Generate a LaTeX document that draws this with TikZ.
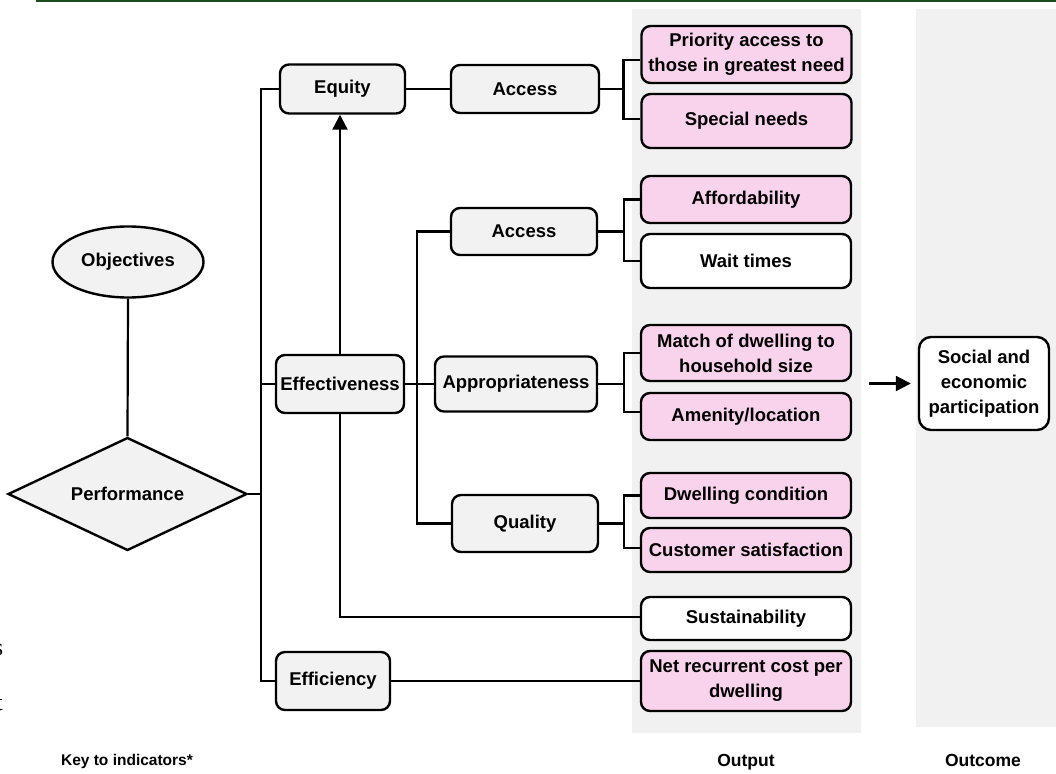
\documentclass[tikz,border=0pt]{standalone}
\usepackage{fontspec}
\setmainfont{Liberation Sans}
\newfontfamily\serifcut{Liberation Serif}
\usetikzlibrary{shapes.geometric,arrows.meta}

\definecolor{boxgray}{HTML}{F2F2F2}
\definecolor{bandgray}{HTML}{F1F1F1}
\definecolor{indpink}{HTML}{F9D3EC}
\definecolor{rulegreen}{HTML}{1B4D1F}

\tikzset{
  base/.style={draw=black, line width=2.4pt, inner sep=2pt, align=center,
    font=\fontsize{18.5}{25}\selectfont\bfseries},
  catbox/.style={base, rounded corners=9pt, fill=boxgray},
  pinkbox/.style={base, rounded corners=9pt, fill=indpink, minimum width=210pt},
  whitebox/.style={base, rounded corners=9pt, fill=white, minimum width=210pt},
  link/.style={line width=2.2pt, draw=black},
  arr/.style={link, -{Triangle[length=15pt,width=15pt]}},
  caption/.style={font=\fontsize{17.5}{20}\selectfont\bfseries, anchor=base},
}

\begin{document}
\begin{tikzpicture}[x=1pt, y=-1pt]
\useasboundingbox (0,0) rectangle (1056,773);

% header rule
\draw[rulegreen, line width=2pt] (36,1) -- (1056,1);

% output and outcome columns
\fill[bandgray] (632,9) rectangle (861,733);
\fill[bandgray] (916,9) rectangle (1056,727);

% word endings cut by the left margin
\node[font=\serifcut\fontsize{24}{26}\selectfont, anchor=base east, inner sep=0] (cuts) at (3.5,655) {s};
\node[font=\serifcut\fontsize{24}{26}\selectfont, anchor=base east, inner sep=0] (cutt) at (3,710) {t};

% objectives and performance
\node[base, ellipse, fill=boxgray, minimum width=151pt, minimum height=71pt, inner sep=0] (obj) at (128,262) {Objectives};
\node[base, diamond, aspect=2.1, fill=boxgray, minimum width=239pt, minimum height=113pt, inner sep=0] (perf) at (127.5,494) {Performance};

% dimensions
\node[catbox, minimum width=125pt, minimum height=49pt] (equity) at (342.5,89) {Equity};
\node[catbox, minimum width=128pt, minimum height=58pt] (eff) at (340,384) {Effectiveness};
\node[catbox, minimum width=114pt, minimum height=58pt] (effic) at (333,681) {Efficiency};

% sub-dimensions
\node[catbox, minimum width=148pt, minimum height=48pt] (acc1) at (525,89) {Access};
\node[catbox, minimum width=146pt, minimum height=47pt] (acc2) at (524,231.5) {Access};
\node[catbox, minimum width=162pt, minimum height=55pt] (approp) at (516,384) {Appropriateness};
\node[catbox, minimum width=146pt, minimum height=57pt] (quality) at (525,523.5) {Quality};

% indicators
\node[pinkbox, minimum height=57pt] (prio) at (746.5,54.5) {Priority access to\\those in greatest need};
\node[pinkbox, minimum height=54pt] (spec) at (746.5,121) {Special needs};
\node[pinkbox, minimum height=47pt] (afford) at (746,199.5) {Affordability};
\node[whitebox, minimum height=54pt] (wait) at (746,261) {Wait times};
\node[pinkbox, minimum height=56pt] (match) at (746,353) {Match of dwelling to\\household size};
\node[pinkbox, minimum height=47pt] (amen) at (746,416.5) {Amenity/location};
\node[pinkbox, minimum height=45pt] (cond) at (746,495.5) {Dwelling condition};
\node[pinkbox, minimum height=44pt] (cust) at (746,550) {Customer satisfaction};
\node[whitebox, minimum height=43pt] (sust) at (746,618.5) {Sustainability};
\node[pinkbox, minimum height=60pt] (net) at (746,681) {Net recurrent cost per\\dwelling};

% outcome
\node[base, rounded corners=12pt, fill=white, minimum width=130pt, minimum height=93pt] (social) at (984,383.5) {Social and\\economic\\participation};

% captions
\node[caption, font=\fontsize{15.5}{18}\selectfont\bfseries] (key) at (127,765) {Key to indicators*};
\node[caption] (outlbl) at (746,766) {Output};
\node[caption] (outclbl) at (983,766) {Outcome};

% junction points
\coordinate (trunk) at (261,494);
\coordinate (spine) at (417,384);
\coordinate (br1) at (623.5,89);
\coordinate (br2) at (624,231.5);
\coordinate (br3) at (624,384);
\coordinate (br4) at (624,523.5);
\coordinate (arrstart) at (869,383.5);

% objectives to performance, performance to dimensions
\draw[link] (obj.south) -- (perf.north);
\draw[link] (equity.west) -| (trunk) |- (effic.west);
\draw[link] (perf.east) -- (perf.east -| trunk);
\draw[link] (eff.west) -- (eff.west -| trunk);

% dimensions to sub-dimensions
\draw[link] (equity.east) -- (acc1.west);
\draw[link] (eff.east) -- (approp.west);
\draw[link] (acc2.west) -| (spine) |- (quality.west);
\draw[arr] (eff.north) -- (eff.north |- equity.south);
\draw[link] (eff.south) |- ([yshift=1.5pt]sust.west);
\draw[link] (effic.east) -- (net.west);

% sub-dimensions to indicators
\draw[link] (acc1.east) -- (br1);
\draw[link] ([yshift=-5.5pt]prio.west) -| (br1) |- ([yshift=2pt]spec.west);
\draw[link] (acc2.east) -- (br2);
\draw[link] (afford.west) -| (br2) |- (wait.west);
\draw[link] (approp.east) -- (br3);
\draw[link] (match.west) -| (br3) |- ([yshift=4.5pt]amen.west);
\draw[link] (quality.east) -- (br4);
\draw[link] (cond.west) -| (br4) |- ([yshift=2pt]cust.west);

% output to outcome
\draw[arr, shorten >=7pt] (arrstart) -- (social.west);
\end{tikzpicture}
\end{document}
